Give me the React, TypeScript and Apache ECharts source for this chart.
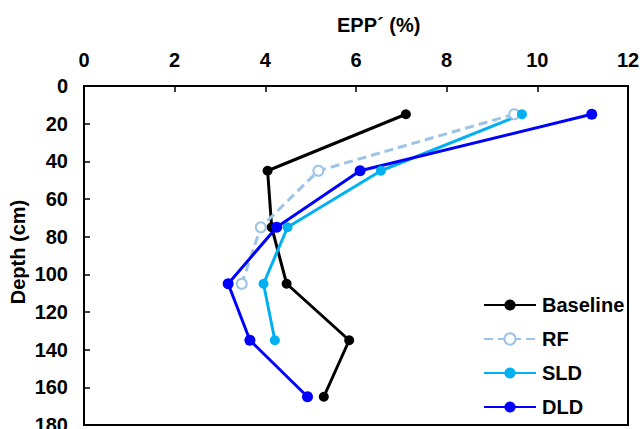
import React, { useEffect, useRef } from "react";
import * as echarts from "echarts";

// Depth of each sampling layer (cm)
const depths = [15, 45, 75, 105, 135, 165];

// EPP´ (%) per treatment, one value per layer
const baseline = [7.1, 4.05, 4.14, 4.47, 5.85, 5.29];
const rf = [9.49, 5.17, 3.9, 3.48];
const sld = [9.66, 6.55, 4.49, 3.96, 4.21];
const dld = [11.2, 6.09, 4.25, 3.18, 3.66, 4.93];

const seriesNames = ["Baseline", "RF", "SLD", "DLD"];
const xTitle = "EPP´ (%)";
const yTitle = "Depth (cm)";

const FONT = "'Liberation Sans', Arial, sans-serif";

const pairs = (vals: number[]) => vals.map((v, i) => [v, depths[i]]);

export default function App() {
  const ref = useRef<HTMLDivElement>(null);

  useEffect(() => {
    if (!ref.current) return;
    const chart = echarts.init(ref.current, null, { renderer: "svg" });

    const lineSeries = (
      name: string,
      vals: number[],
      color: string,
      opts: any = {}
    ) => ({
      name,
      type: "line",
      data: pairs(vals),
      symbol: "circle",
      symbolSize: 10,
      color,
      lineStyle: { color, width: 3, ...(opts.lineStyle || {}) },
      itemStyle: { color, ...(opts.itemStyle || {}) },
      ...(opts.extra || {}),
    });

    chart.setOption({
      animation: false,
      backgroundColor: "#fff",
      textStyle: { fontFamily: FONT },
      grid: {
        left: 84,
        right: 14,
        top: 86,
        bottom: 4,
        containLabel: false,
        outerBoundsMode: "none",
        show: true,
        borderColor: "#000",
        borderWidth: 2,
      },
      xAxis: {
        type: "value",
        position: "top",
        min: 0,
        max: 12,
        interval: 2,
        axisLine: { show: true, lineStyle: { color: "#000", width: 2 } },
        axisTick: { show: true, inside: true, length: 6, lineStyle: { color: "#000", width: 1.5 } },
        axisLabel: {
          color: "#000",
          fontSize: 20,
          fontWeight: "bold",
          fontFamily: FONT,
          margin: 16,
        },
        splitLine: { show: false },
      },
      yAxis: {
        type: "value",
        inverse: true,
        min: 0,
        max: 180,
        interval: 20,
        axisLine: { show: true, lineStyle: { color: "#000", width: 2 } },
        axisTick: { show: true, inside: true, length: 6, lineStyle: { color: "#000", width: 1.5 } },
        axisLabel: {
          color: "#000",
          fontSize: 20,
          fontWeight: "bold",
          fontFamily: FONT,
          margin: 16,
        },
        splitLine: { show: false },
      },
      legend: {
        data: seriesNames,
        orient: "vertical",
        left: 483,
        top: 295,
        padding: 0,
        itemWidth: 52,
        itemHeight: 14,
        itemGap: 14,
        textStyle: {
          color: "#000",
          fontSize: 20,
          fontWeight: "bold",
          fontFamily: FONT,
          padding: [0, 0, 0, 1],
        },
      },
      graphic: [
        {
          type: "text",
          left: 337,
          top: 15,
          style: {
            text: xTitle,
            fill: "#000",
            font: `bold 20px ${FONT}`,
          },
        },
        {
          type: "text",
          x: 18,
          y: 252,
          rotation: Math.PI / 2,
          style: {
            text: yTitle,
            fill: "#000",
            font: `bold 20px ${FONT}`,
            align: "center",
            verticalAlign: "middle",
          },
        },
      ],
      series: [
        lineSeries(seriesNames[0], baseline, "#000000"),
        lineSeries(seriesNames[1], rf, "#9DC3E6", {
          lineStyle: { type: [9, 5] },
          extra: { symbol: "emptyCircle", symbolSize: 10 },
          itemStyle: { borderWidth: 2 },
        }),
        lineSeries(seriesNames[2], sld, "#00B0F0"),
        lineSeries(seriesNames[3], dld, "#0000FF", { extra: { symbolSize: 11 } }),
      ],
    });

    return () => chart.dispose();
  }, []);

  return (
    <div
      ref={ref}
      style={{ position: "fixed", left: 0, top: 0, width: 642, height: 429 }}
    />
  );
}
